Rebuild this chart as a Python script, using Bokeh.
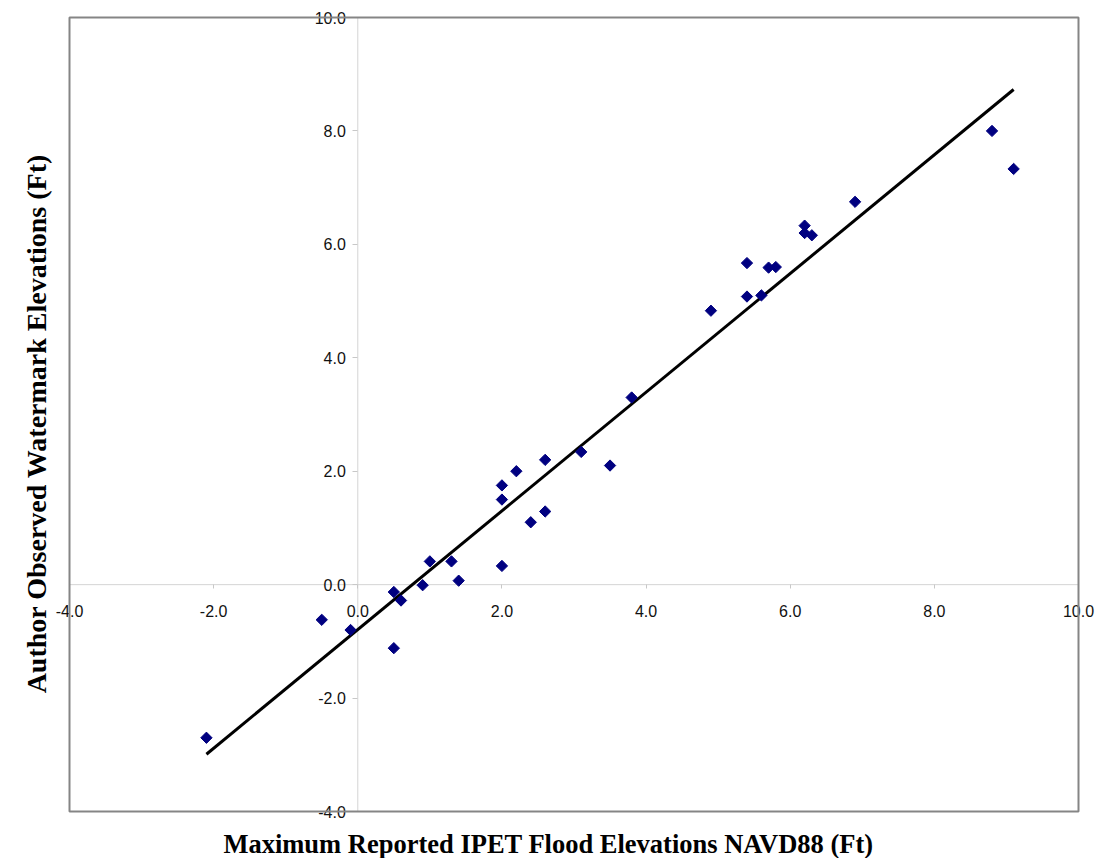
import numpy as np
from bokeh.plotting import figure
from bokeh.models import Range1d, FixedTicker, PrintfTickFormatter, Label, BoxAnnotation
from bokeh.embed import file_html
from bokeh.resources import INLINE

# Data
ipet_ft = [-2.1, -0.5, -0.1, 0.5, 0.5, 0.6, 0.9, 1.0, 1.3, 1.4, 2.0, 2.0, 2.0, 2.2,
           2.4, 2.6, 2.6, 3.1, 3.5, 3.8, 4.9, 5.4, 5.4, 5.6, 5.7, 5.8, 6.2, 6.2,
           6.3, 6.9, 8.8, 9.1]
observed_ft = [-2.7, -0.62, -0.8, -0.13, -1.12, -0.28, -0.01, 0.41, 0.41, 0.07, 0.33,
               1.75, 1.5, 2.0, 1.1, 1.29, 2.2, 2.34, 2.1, 3.3, 4.83, 5.08, 5.67,
               5.1, 5.59, 5.6, 6.33, 6.2, 6.16, 6.75, 8.0, 7.33]
trend_x = [-2.1, 9.1]
trend_y = [-2.99, 8.73]
ticks = [-4, -2, 0, 2, 4, 6, 8, 10]
axis_min, axis_max = -4, 10

x_title = "Maximum Reported IPET Flood Elevations NAVD88 (Ft)"
y_title = "Author Observed Watermark Elevations (Ft)"

# canvas layout (pixels): plot box from (69,17) to (1078,811)
W, H = 1096, 858
box_l, box_r, box_t, box_b = 69, 1078, 17, 811
sx = (box_r - box_l) / (axis_max - axis_min)
sy = (box_b - box_t) / (axis_max - axis_min)
x_range = Range1d(axis_min - box_l / sx, axis_max + (W - box_r) / sx)
y_range = Range1d(axis_min - (H - box_b) / sy, axis_max + box_t / sy)

p = figure(width=W, height=H, x_range=x_range, y_range=y_range,
           output_backend="svg", toolbar_location=None,
           min_border_left=0, min_border_right=0, min_border_top=0, min_border_bottom=0)

p.background_fill_color = "white"
p.border_fill_color = "white"
p.outline_line_color = None
p.xgrid.visible = False
p.ygrid.visible = False

for ax in (p.xaxis[0], p.yaxis[0]):
    ax.fixed_location = 0
    ax.ticker = FixedTicker(ticks=ticks)
    ax.formatter = PrintfTickFormatter(format="%.1f")
    ax.axis_line_color = None
    ax.major_tick_line_color = "#c8c8c8"
    ax.major_tick_in = 0
    ax.minor_tick_line_color = None
    ax.major_label_text_font = "Liberation Sans"
    ax.major_label_text_font_size = "16px"
    ax.major_label_text_color = "#111111"

p.xaxis[0].major_tick_out = 4
p.xaxis[0].major_label_standoff = 16
p.yaxis[0].major_tick_out = 5
p.yaxis[0].major_label_standoff = 7

# zero lines across the plot box
p.segment(x0=[axis_min, 0], y0=[0, axis_min], x1=[axis_max, 0], y1=[0, axis_max],
          line_color="#d4d4d4", line_width=1)

# plot box outline
p.add_layout(BoxAnnotation(left=axis_min, right=axis_max, bottom=axis_min, top=axis_max,
                           fill_color=None, fill_alpha=0, line_color="#858585",
                           line_alpha=1.0, line_width=2))

p.line(trend_x, trend_y, line_color="black", line_width=3)
p.scatter(ipet_ft, observed_ft, marker="square", angle=np.pi / 4, size=8,
          fill_color="#000080", line_color="#000080", line_width=1)

p.add_layout(Label(x=axis_min + (548 - box_l) / sx, y=axis_min - (843 - box_b) / sy,
                   text=x_title, text_align="center",
                   text_baseline="alphabetic", text_font="Liberation Serif",
                   text_font_style="bold", text_font_size="26.5px", text_color="black"))
p.add_layout(Label(x=axis_min - (box_l - 36) / sx, y=axis_max - (423 - box_t) / sy,
                   text=y_title, angle=np.pi / 2, text_align="center",
                   text_baseline="alphabetic", text_font="Liberation Serif",
                   text_font_style="bold", text_font_size="28px", text_color="black"))

open("out.html", "w").write(file_html(p, INLINE))
